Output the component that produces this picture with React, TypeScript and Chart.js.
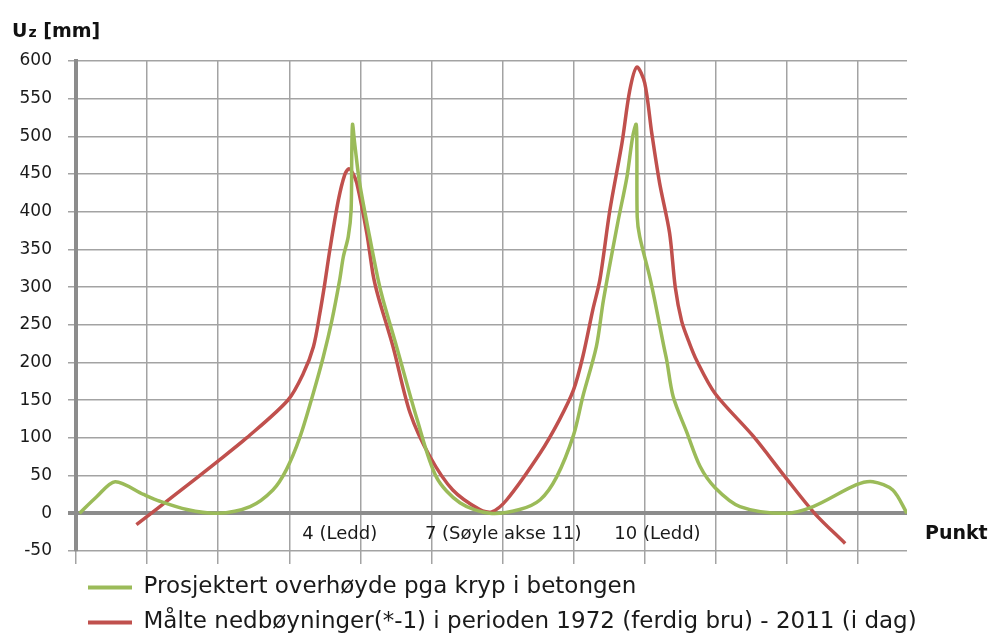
import React, { useEffect, useRef } from "react";
import { Chart, registerables } from "chart.js";

Chart.register(...registerables);

// ---- data (x in "grid units" along the bridge, y in mm) ----
const greenX = [0.05, 0.29, 0.55, 0.95, 1.18, 1.56, 1.98, 2.45, 2.77, 2.96, 3.15, 3.34, 3.48, 3.6, 3.71, 3.76, 3.83, 3.87, 3.88, 3.89, 3.92, 3.99, 4.13, 4.25, 4.32, 4.51, 4.8, 5.07, 5.4, 5.82, 6.24, 6.53, 6.76, 7.0, 7.13, 7.32, 7.42, 7.62, 7.75, 7.83, 7.88, 7.89, 7.895, 7.93, 8.07, 8.14, 8.27, 8.31, 8.4, 8.59, 8.78, 8.99, 9.34, 9.97, 10.37, 10.98, 11.21, 11.49, 11.69];
const greenY = [0, 22, 42, 25, 16, 5, 0, 9, 31, 58, 101, 160, 208, 256, 310, 340, 367, 402, 482, 516, 491, 438, 367, 310, 283, 221, 124, 48, 14, 0, 5, 18, 48, 104, 155, 221, 283, 385, 446, 499, 516, 482, 393, 367, 314, 283, 221, 203, 155, 108, 62, 34, 9, 0, 9, 38, 42, 31, 0];

const redX = [0.85, 1.4, 1.98, 2.4, 2.98, 3.2, 3.34, 3.43, 3.5, 3.57, 3.69, 3.78, 3.84, 3.9, 3.95, 4.09, 4.18, 4.25, 4.46, 4.7, 4.98, 5.3, 5.68, 5.85, 6.06, 6.53, 6.8, 7.0, 7.13, 7.27, 7.37, 7.51, 7.68, 7.79, 7.89, 8.0, 8.1, 8.21, 8.35, 8.43, 8.52, 8.62, 8.73, 8.99, 9.53, 9.97, 10.39, 10.82];
const redY = [-15, 25, 68, 100, 150, 186, 221, 265, 305, 349, 415, 449, 457, 450, 438, 372, 316, 288, 221, 133, 75, 31, 5, 2, 18, 80, 124, 164, 208, 270, 310, 402, 491, 561, 592, 571, 504, 438, 372, 300, 255, 228, 203, 159, 102, 49, 0, -40];

const seriesNames = [
  "Prosjektert overhøyde pga kryp i betongen",
  "Målte nedbøyninger(*-1) i perioden 1972 (ferdig bru) - 2011 (i dag)",
];
const seriesColors = ["#9bbb59", "#c0504d"];

const yMin = -50;
const yMax = 600;
const yStep = 50;
const xMin = 0;
const xMax = 11.69;

const xLabelTexts = ["4 (Ledd)", "7 (Søyle akse 11)", "10 (Ledd)"];
const xLabelPos = [3.71, 6.01, 8.18];
const xLabelLevel = -28;

const yTitleMain = "U";
const yTitleSub = "z";
const yTitleUnit = " [mm]";
const xTitle = "Punkt";

const FONT = '"DejaVu Sans", sans-serif';

const toPoints = (xs: number[], ys: number[]) => xs.map((x, i) => ({ x, y: ys[i] }));

// let the legend (laid out under the plot area) run to the canvas' right edge
const widenLegend = {
  id: "widenLegend",
  afterLayout(chart: any) {
    const lg = chart.legend;
    if (lg) {
      lg.right = chart.width;
      lg.width = chart.width - lg.left;
    }
  },
};

const textPlugin = {
  id: "extraTexts",
  afterDraw(chart: any) {
    const ctx = chart.ctx;
    const xs = chart.scales.x;
    const ys = chart.scales.y;
    ctx.save();
    ctx.fillStyle = "#111111";
    ctx.textAlign = "left";
    ctx.textBaseline = "alphabetic";
    // axis title top-left
    ctx.font = `bold 19px ${FONT}`;
    ctx.fillText(yTitleMain, 12, 37);
    const uw = ctx.measureText(yTitleMain).width;
    ctx.font = `bold 14px ${FONT}`;
    ctx.fillText(yTitleSub, 12 + uw + 1, 37);
    const zw = ctx.measureText(yTitleSub).width;
    ctx.font = `bold 19px ${FONT}`;
    ctx.fillText(yTitleUnit, 12 + uw + 1 + zw, 37);
    // x labels
    const ly = ys.getPixelForValue(xLabelLevel);
    ctx.textBaseline = "middle";
    ctx.font = `18px ${FONT}`;
    ctx.textAlign = "center";
    ctx.fillStyle = "#1a1a1a";
    xLabelTexts.forEach((t, i) => {
      ctx.fillText(t, xs.getPixelForValue(xLabelPos[i]), ly);
    });
    // x title
    ctx.textAlign = "left";
    ctx.font = `bold 19px ${FONT}`;
    ctx.fillStyle = "#111111";
    ctx.fillText(xTitle, chart.chartArea.right + 18, ly);
    ctx.restore();
  },
};

export default function App() {
  const ref = useRef<HTMLCanvasElement>(null);
  useEffect(() => {
    if (!ref.current) return;
    const chart = new Chart(ref.current, {
      type: "line",
      data: {
        datasets: [
          {
            label: seriesNames[0],
            data: toPoints(greenX, greenY),
            borderColor: seriesColors[0],
            backgroundColor: seriesColors[0],
            borderWidth: 3.5,
            pointRadius: 0,
            tension: 0.3,
            fill: false,
          },
          {
            label: seriesNames[1],
            data: toPoints(redX, redY),
            borderColor: seriesColors[1],
            backgroundColor: seriesColors[1],
            borderWidth: 3.5,
            pointRadius: 0,
            tension: 0.3,
            fill: false,
          },
        ],
      },
      options: {
        responsive: false,
        animation: false,
        devicePixelRatio: 1,
        layout: { padding: { top: 61, right: 85, left: 0, bottom: 0 } },
        scales: {
          x: {
            type: "linear",
            min: xMin,
            max: xMax,
            ticks: { display: false, stepSize: 1, includeBounds: false },
            grid: { color: "#a3a3a3", lineWidth: 1.5, tickLength: 13, drawTicks: true },
            border: { display: false },
          },
          y: {
            min: yMin,
            max: yMax,
            ticks: {
              stepSize: yStep,
              padding: 16,
              color: "#1a1a1a",
              font: { family: FONT, size: 17 },
            },
            grid: {
              color: (c: any) => (c.tick && c.tick.value === 0 ? "#8c8c8c" : "#a3a3a3"),
              lineWidth: (c: any) => (c.tick && c.tick.value === 0 ? 4 : 1.5),
              tickLength: 8,
            },
            border: { display: true, color: "#8c8c8c", width: 4 },
            afterFit: (scale: any) => {
              scale.width = 76;
            },
          },
        },
        plugins: {
          title: { display: false },
          tooltip: { enabled: false },
          legend: {
            display: true,
            position: "bottom",
            align: "start",
            fullSize: false,
            labels: {
              boxWidth: 44,
              boxHeight: 4,
              padding: 12,
              color: "#1a1a1a",
              font: { family: FONT, size: 23 },
              generateLabels: (ch: any) =>
                Chart.defaults.plugins.legend.labels
                  .generateLabels(ch)
                  .map((l: any) => ({ ...l, fillStyle: l.strokeStyle, lineWidth: 0 })),
            },
          },
        },
      } as any,
      plugins: [widenLegend, textPlugin],
    });
    return () => chart.destroy();
  }, []);
  return (
    <div style={{ position: "fixed", left: 0, top: 0, width: 992, height: 644, background: "#fff" }}>
      <canvas ref={ref} width={992} height={644} style={{ display: "block" }} />
    </div>
  );
}
